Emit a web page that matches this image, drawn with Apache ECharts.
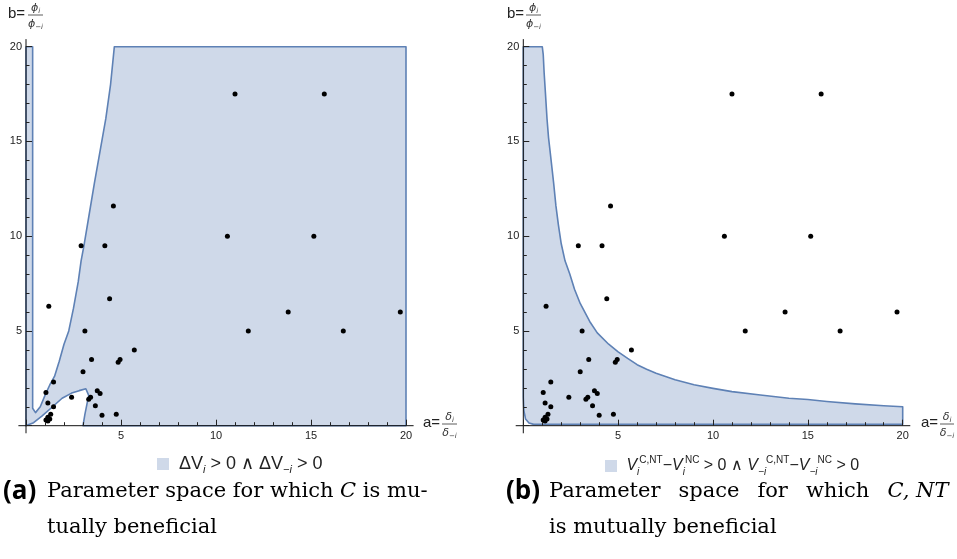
<!DOCTYPE html>
<html>
<head>
<meta charset="UTF-8">
<title>Parameter space</title>
<script src="https://cdn.jsdelivr.net/npm/echarts@6/dist/echarts.min.js"></script>
<style>html,body{margin:0;background:#fff}</style>
</head>
<body>
<div id="main" style="width:957px;height:559px;"></div>
<script>
// axis range and the little overhang of the axis lines
var axisMin = 0, axisMax = 20, overhang = 0.4;

// observed (a, b) pairs, drawn in both panels
var samples = [
  [11.0, 17.5], [15.7, 17.5], [4.6, 11.6], [2.9, 9.5], [4.15, 9.5], [10.6, 10.0], [15.15, 10.0],
  [1.2, 6.3], [4.4, 6.7], [3.1, 5.0], [5.7, 4.0], [3.45, 3.5], [4.95, 3.5], [4.85, 3.35],
  [3.0, 2.85], [1.45, 2.3], [1.05, 1.75], [3.75, 1.85], [3.9, 1.7], [2.4, 1.5], [3.4, 1.5],
  [3.3, 1.4], [1.15, 1.2], [1.45, 1.0], [3.65, 1.05], [4.75, 0.6], [4.0, 0.55], [1.3, 0.6],
  [1.15, 0.45], [1.25, 0.35], [1.05, 0.3], [1.15, 0.25],
  [11.7, 5.0], [13.8, 6.0], [16.7, 5.0], [19.7, 6.0]
];

// (a) border of the region where C is mutually beneficial
var regionC = [
  [0, 20], [0.35, 20], [0.35, 0.92], [0.5, 0.69], [0.75, 1.0], [1.0, 1.6], [1.25, 2.15],
  [1.5, 2.6], [1.75, 3.4], [2.0, 4.3], [2.25, 5.0], [2.5, 6.2], [2.75, 7.6], [2.9, 8.7],
  [3.05, 9.5], [3.3, 11.0], [3.6, 12.8], [3.9, 14.5], [4.2, 16.2], [4.45, 18.0], [4.65, 20],
  [20, 20], [20, 0], [3.0, 0], [3.1, 0.6], [3.2, 1.1], [3.3, 1.6], [3.15, 1.95], [2.8, 1.85],
  [2.4, 1.72], [1.9, 1.45], [1.4, 1.0], [0.85, 0.52], [0.4, 0.16], [0.05, 0.02], [0, 0]
];

// (b) border of the region where C,NT is mutually beneficial
var regionCNT = [
  [0, 20], [1.0, 20], [1.05, 19.6], [1.1, 18.6], [1.17, 17.5], [1.25, 16.2], [1.33, 15.2],
  [1.41, 14.5], [1.5, 13.7], [1.6, 12.8], [1.72, 11.6], [1.85, 10.6], [2.0, 9.6], [2.2, 8.7],
  [2.45, 8.0], [2.7, 7.2], [3.0, 6.45], [3.5, 5.5], [3.9, 4.9], [4.5, 4.3], [5.0, 3.9],
  [5.5, 3.55], [6.0, 3.22], [6.5, 2.98], [7.0, 2.77], [7.5, 2.59], [8.0, 2.42], [9.0, 2.16],
  [10, 1.97], [11, 1.8], [12.5, 1.62], [14, 1.45], [15, 1.38], [16, 1.28], [17.5, 1.15],
  [19, 1.05], [20, 1.0], [20, 0.07], [0.55, 0.07], [0.3, 0.14], [0.12, 0.35], [0.03, 0.8],
  [0, 1.5]
];

var nameA = 'ΔVi > 0 ∧ ΔV-i > 0';
var nameB = 'ViC,NT-ViNC > 0 ∧ V-iC,NT-V-iNC > 0';

var FILL = '#cfd9e9';
var EDGE = '#5e81b5';

var myChart = echarts.init(document.getElementById('main'));

// region polygon plus the axis lines (they run a bit past 0 and 20)
function polyRender(pts) {
  return function (params, api) {
    if (params.dataIndex !== 0) return;
    var points = pts.map(function (p) { return api.coord(p); });
    var lo = axisMin - overhang, hi = axisMax + overhang;
    var xa = [api.coord([lo, 0]), api.coord([hi, 0])];
    var ya = [api.coord([0, lo]), api.coord([0, hi])];
    return {
      type: 'group',
      children: [
        { type: 'polygon', shape: { points: points },
          style: { fill: FILL, stroke: EDGE, lineWidth: 1.6, lineJoin: 'round' } },
        { type: 'line', shape: { x1: xa[0][0], y1: xa[0][1], x2: xa[1][0], y2: xa[1][1] },
          style: { stroke: '#111', lineWidth: 1 } },
        { type: 'line', shape: { x1: ya[0][0], y1: ya[0][1], x2: ya[1][0], y2: ya[1][1] },
          style: { stroke: '#111', lineWidth: 1 } }
      ]
    };
  };
}

function makeAxis(dim, gi) {
  return {
    type: 'value', gridIndex: gi, min: axisMin, max: axisMax, interval: 5, z: 3,
    axisLine: { show: false },
    axisTick: { inside: true, length: 6, lineStyle: { color: '#222' } },
    minorTick: { show: true, splitNumber: 5, length: 3.5, lineStyle: { color: '#222' } },
    axisLabel: {
      showMinLabel: false, margin: dim === 'x' ? 5 : 4,
      fontSize: 11, color: '#222', fontFamily: 'Liberation Sans'
    },
    splitLine: { show: false },
    minorSplitLine: { show: false }
  };
}

function legRich(size, small) {
  return {
    n: { fontSize: size, fontFamily: 'Liberation Sans', color: '#222', lineHeight: 22 },
    v: { fontSize: size, fontFamily: 'Liberation Sans', fontStyle: 'italic', color: '#222', lineHeight: 22 },
    s: { fontSize: small, fontFamily: 'Liberation Sans', fontStyle: 'italic', color: '#222', lineHeight: 12, verticalAlign: 'bottom' },
    p: { fontSize: small, fontFamily: 'Liberation Sans', color: '#222', lineHeight: 12, verticalAlign: 'top' }
  };
}

function fracLabel(x0, yc, lead, sym, barX, barW) {
  var rich = {
    g: { fontSize: 11, fontStyle: 'italic', fontFamily: 'DejaVu Sans', fill: '#333', lineHeight: 14 },
    s: { fontSize: 7, fontStyle: 'italic', fontFamily: 'DejaVu Sans', fill: '#333', lineHeight: 8, verticalAlign: 'bottom' }
  };
  return [
    { type: 'text', x: x0, y: yc, style: { text: lead, font: '15px "Liberation Sans"', fill: '#222', verticalAlign: 'middle' } },
    { type: 'text', x: barX + barW / 2, y: yc - 6, style: { text: '{g|' + sym + '}{s|i}', rich: rich, align: 'center', verticalAlign: 'middle' } },
    { type: 'line', shape: { x1: barX, y1: yc + 1, x2: barX + barW, y2: yc + 1 }, style: { stroke: '#333', lineWidth: 0.8 } },
    { type: 'text', x: barX + barW / 2, y: yc + 10, style: { text: '{g|' + sym + '}{s|−i}', rich: rich, align: 'center', verticalAlign: 'middle' } }
  ];
}

var capRich = {
  r: { font: '21px "DejaVu Serif"', fill: '#000', lineHeight: 36 },
  i: { font: 'italic 21px "DejaVu Serif"', fill: '#000', lineHeight: 36 },
  w: { width: 18, lineHeight: 36 }
};

var graphics = []
  .concat(fracLabel(8, 14, 'b=', 'ϕ', 28, 15))
  .concat(fracLabel(507, 14, 'b=', 'ϕ', 526, 15))
  .concat(fracLabel(423, 423, 'a=', 'δ', 442, 15))
  .concat(fracLabel(921, 423, 'a=', 'δ', 940, 14))
  .concat([
    { type: 'text', x: 3, y: 473, style: { text: '(a)', font: 'bold 26px "Open Sans"', fill: '#000', lineHeight: 38 } },
    { type: 'text', x: 47, y: 474, style: { text: '{r|Parameter space for which }{i|C}{r| is mu-}\n{r|tually beneficial}', rich: capRich } },
    { type: 'text', x: 506, y: 473, style: { text: '(b)', font: 'bold 26px "Open Sans"', fill: '#000', lineHeight: 38 } },
    { type: 'text', x: 549, y: 474, style: {
      text: '{r|Parameter}{w|}{r|space}{w|}{r|for}{w|}{r|which}{w|}{i|C, NT}\n{r|is mutually beneficial}',
      rich: capRich } }
  ]);

var option = {
  animation: false,
  grid: [
    { left: 26, top: 46.7, width: 380, height: 379 },
    { left: 523.3, top: 46.7, width: 379.4, height: 379 }
  ],
  xAxis: [makeAxis('x', 0), makeAxis('x', 1)],
  yAxis: [makeAxis('y', 0), makeAxis('y', 1)],
  legend: [
    {
      data: [nameA], left: 157, top: 455, padding: 0, icon: 'rect', itemWidth: 12, itemHeight: 12,
      formatter: function () { return '{n| ΔV}{s|i}{n| > 0 ∧ ΔV}{s|−i}{n| > 0}'; },
      textStyle: { rich: legRich(18, 11) }
    },
    {
      data: [nameB], left: 605, top: 455, padding: 0, icon: 'rect', itemWidth: 12, itemHeight: 12,
      formatter: function () {
        return '{n| }{v|V}{s|i}{p|C,NT}{n|−}{v|V}{s|i}{p|NC}{n| > 0 ∧ }{v|V}{s|−i}{p|C,NT}{n|−}{v|V}{s|−i}{p|NC}{n| > 0}';
      },
      textStyle: { rich: legRich(16, 10) }
    }
  ],
  graphic: graphics,
  series: [
    {
      name: nameA, type: 'custom', xAxisIndex: 0, yAxisIndex: 0, z: 1, silent: true, clip: false,
      itemStyle: { color: FILL }, renderItem: polyRender(regionC), data: regionC
    },
    {
      name: nameB, type: 'custom', xAxisIndex: 1, yAxisIndex: 1, z: 1, silent: true, clip: false,
      itemStyle: { color: FILL }, renderItem: polyRender(regionCNT), data: regionCNT
    },
    {
      type: 'scatter', xAxisIndex: 0, yAxisIndex: 0, z: 4, symbolSize: 5, silent: true,
      itemStyle: { color: '#000', opacity: 1 }, data: samples
    },
    {
      type: 'scatter', xAxisIndex: 1, yAxisIndex: 1, z: 4, symbolSize: 5, silent: true,
      itemStyle: { color: '#000', opacity: 1 }, data: samples
    }
  ]
};
myChart.setOption(option);
</script>
</body>
</html>
